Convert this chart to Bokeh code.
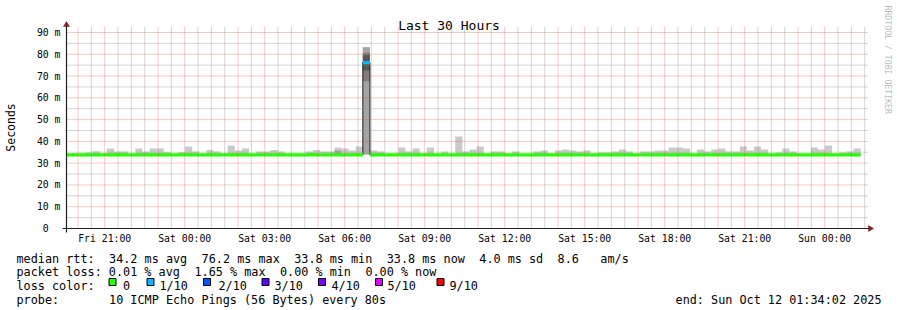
import re
import math
from datetime import datetime, timezone

from bokeh.plotting import figure
from bokeh.models import Range1d, FixedTicker, DatetimeTickFormatter
from bokeh.embed import file_html
from bokeh.resources import INLINE
from bokeh.core.properties import value

UTC = timezone.utc

# ---------------------------------------------------------------- data
title_text = "Last 30 Hours"
graph_start = datetime(2025, 10, 10, 19, 34, 2, tzinfo=UTC)
graph_end = datetime(2025, 10, 12, 1, 34, 2, tzinfo=UTC)
first_bin_start = datetime(2025, 10, 10, 19, 28, 48, tzinfo=UTC)
bin_minutes = 16

# median RTT per 16-min bin (ms)
median_ms = [
    33.8, 33.8, 33.8, 33.8, 33.8, 33.8, 33.8, 33.8, 33.8, 33.8, 33.8, 33.8, 33.8, 33.8, 33.8, 33.8,
    33.8, 33.8, 33.8, 33.8, 33.8, 33.8, 33.8, 33.8, 33.8, 33.8, 33.8, 33.8, 33.8, 33.8, 33.8, 33.8,
    33.8, 33.8, 33.8, 33.8, 33.8, 33.8, 33.8, 33.8, 33.8, 33.8, 76.2, 33.8, 33.8, 33.8, 33.8, 33.8,
    33.8, 33.8, 33.8, 33.8, 33.8, 33.8, 33.8, 33.8, 33.8, 33.8, 33.8, 33.8, 33.8, 33.8, 33.8, 33.8,
    33.8, 33.8, 33.8, 33.8, 33.8, 33.8, 33.8, 33.8, 33.8, 33.8, 33.8, 33.8, 33.8, 33.8, 33.8, 33.8,
    33.8, 33.8, 33.8, 33.8, 33.8, 33.8, 33.8, 33.8, 33.8, 33.8, 33.8, 33.8, 33.8, 33.8, 33.8, 33.8,
    33.8, 33.8, 33.8, 33.8, 33.8, 33.8, 33.8, 33.8, 33.8, 33.8, 33.8, 33.8, 33.8, 33.8, 33.8, 33.8,
]
# slowest ping per bin (ms) = top of the smoke
max_ms = [
    33.8, 33.8, 33.8, 34.9, 35.5, 33.8, 36.7, 35.4, 35.4, 33.8, 36.7, 35.4, 36.7, 36.7, 35.0, 33.8,
    35.0, 37.6, 35.4, 33.8, 36.0, 35.4, 33.8, 38.1, 35.8, 36.7, 33.8, 35.4, 35.4, 36.0, 35.4, 33.8,
    33.8, 33.8, 35.4, 36.0, 35.4, 35.4, 37.2, 36.7, 35.8, 37.6, 83.2, 35.8, 35.4, 33.8, 33.8, 37.2,
    35.4, 36.7, 33.8, 37.2, 33.8, 35.4, 33.8, 42.2, 35.4, 36.3, 37.6, 33.8, 35.4, 35.4, 33.8, 35.4,
    33.8, 33.8, 35.4, 35.8, 33.8, 35.8, 36.3, 35.8, 35.4, 35.8, 33.8, 34.9, 34.9, 35.4, 36.3, 35.4,
    33.8, 35.4, 35.4, 35.8, 35.8, 37.2, 37.2, 36.7, 33.8, 36.3, 35.4, 36.3, 36.7, 35.4, 35.4, 37.6,
    35.8, 37.6, 36.3, 33.8, 34.9, 36.7, 35.4, 33.8, 33.8, 37.2, 36.3, 38.1, 33.8, 34.9, 35.4, 36.7,
]
# lost pings (of 10) per bin
loss_count = [
    0, 0, 0, 0, 0, 0, 0, 0, 0, 0, 0, 0, 0, 0, 0, 0,
    0, 0, 0, 0, 0, 0, 0, 0, 0, 0, 0, 0, 0, 0, 0, 0,
    0, 0, 0, 0, 0, 0, 0, 0, 0, 0, 1, 0, 0, 0, 0, 0,
    0, 0, 0, 0, 0, 0, 0, 0, 0, 0, 0, 0, 0, 0, 0, 0,
    0, 0, 0, 0, 0, 0, 0, 0, 0, 0, 0, 0, 0, 0, 0, 0,
    0, 0, 0, 0, 0, 0, 0, 0, 0, 0, 0, 0, 0, 0, 0, 0,
    0, 0, 0, 0, 0, 0, 0, 0, 0, 0, 0, 0, 0, 0, 0, 0,
]
# bins whose sorted pings are spread out (ms)
detail_bins = [38, 42]
detail_pings = [
    [33.8, 33.8, 33.8, 33.8, 33.8, 33.8, 33.8, 33.8, 35.8, 37.2],
    [34.0, 34.0, 67.6, 72.5, 76.0, 76.4, 79.7, 80.7, 83.2, 83.2],
]

y_ticks = [0, 10, 20, 30, 40, 50, 60, 70, 80, 90]
y_tick_labels = ["0\u00a0\u00a0", "10 m", "20 m", "30 m", "40 m", "50 m", "60 m", "70 m", "80 m", "90 m"]
x_label_times = [
    datetime(2025, 10, 10, 21, 0, tzinfo=UTC), datetime(2025, 10, 11, 0, 0, tzinfo=UTC),
    datetime(2025, 10, 11, 3, 0, tzinfo=UTC), datetime(2025, 10, 11, 6, 0, tzinfo=UTC),
    datetime(2025, 10, 11, 9, 0, tzinfo=UTC), datetime(2025, 10, 11, 12, 0, tzinfo=UTC),
    datetime(2025, 10, 11, 15, 0, tzinfo=UTC), datetime(2025, 10, 11, 18, 0, tzinfo=UTC),
    datetime(2025, 10, 11, 21, 0, tzinfo=UTC), datetime(2025, 10, 12, 0, 0, tzinfo=UTC),
]

loss_thresholds = [0, 1, 2, 3, 4, 5, 9]
loss_labels = ["0", "1/10", "2/10", "3/10", "4/10", "5/10", "9/10"]
loss_colors = ["#26ff00", "#00b8ff", "#0059ff", "#5e00ff", "#7e00ff", "#dd00ff", "#ff0000"]

rtt_avg, rtt_max, rtt_min, rtt_now, rtt_sd, am_s = 34.2, 76.2, 33.8, 33.8, 4.0, 8.6
loss_avg, loss_max, loss_min, loss_now = 0.01, 1.65, 0.00, 0.00
probe_pings, probe_bytes, probe_step = 10, 56, 80

# ---------------------------------------------------------------- layout constants
W, H = 897, 310
PPM = 196 / 90.0          # pixels per ms
MS_PER_PX = 135000.0      # 30 h over 800 px
X_ORIGIN, Y_ORIGIN = 66, 228
GRAPH_TOP_PX = 28
MONO = "DejaVu Sans Mono"

T0 = graph_start.timestamp() * 1000
T1 = graph_end.timestamp() * 1000


def X(px):
    return T0 + (px - X_ORIGIN) * MS_PER_PX


def Y(py):
    return (Y_ORIGIN - py) / PPM


Y_TOP = Y(GRAPH_TOP_PX)

p = figure(width=W, height=H, x_axis_type="datetime",
           x_range=Range1d(X(0), X(W)), y_range=Range1d(Y(H), Y(0)),
           output_backend="svg", toolbar_location=None, min_border=0)
p.title.visible = False
p.outline_line_color = None
p.xgrid.visible = False
p.ygrid.visible = False
p.background_fill_color = "white"
p.border_fill_color = "white"

# ---- bins
n = len(median_ms)
step_ms = bin_minutes * 60 * 1000
b0 = first_bin_start.timestamp() * 1000
lefts = [max(T0, b0 + k * step_ms) for k in range(n)]
rights = [min(T1, b0 + (k + 1) * step_ms) for k in range(n)]

# ---- smoke (smokeping style layers)
ql, qr, qb, qt, qc = [], [], [], [], []
for k in range(n):
    if k in detail_bins:
        pings = detail_pings[detail_bins.index(k)]
    else:
        pings = [median_ms[k]] * 9 + [max_ms[k]]
    for ib in range(1, 6):
        lo, hi = pings[ib - 1], pings[10 - ib]
        if hi - lo <= 0:
            continue
        g = int(190 / 5 * (5 - ib)) + 50
        ql.append(lefts[k]); qr.append(rights[k]); qb.append(lo); qt.append(hi)
        qc.append("#%02x%02x%02x" % (g, g, g))
p.quad(left=ql, right=qr, bottom=qb, top=qt, fill_color=qc, line_color=None)

# ---- median line: dark step + loss-coloured thick segments
p.step(x=lefts + [rights[-1]], y=median_ms + [median_ms[-1]], mode="after",
       line_color="#202020", line_width=1.0)


def loss_color(c):
    col = loss_colors[0]
    for t, cc in zip(loss_thresholds, loss_colors):
        if c >= t:
            col = cc
    return col


p.segment(x0=lefts, x1=rights, y0=median_ms, y1=median_ms,
          line_color=[loss_color(c) for c in loss_count], line_width=3.3)

# ---- grid (drawn on top like rrdtool)
hour = 3600 * 1000
half = hour // 2
t = math.ceil(T0 / half) * half
minor_v, major_v = [], []
while t <= T1:
    (major_v if t % hour == 0 else minor_v).append(t)
    t += half
minor_h = [v + 5 for v in y_ticks if v + 5 < Y_TOP]
major_h = [v for v in y_ticks if v > 0]
GX1 = X(868)
GY1 = Y(26)
p.segment(x0=minor_v, x1=minor_v, y0=[0] * len(minor_v), y1=[GY1] * len(minor_v),
          line_color="#8f8f8f", line_alpha=0.75, line_dash="1 1", line_width=1)
p.segment(x0=[T0] * len(minor_h), x1=[GX1] * len(minor_h), y0=minor_h, y1=minor_h,
          line_color="#8f8f8f", line_alpha=0.75, line_dash="1 1", line_width=1)
p.segment(x0=major_v, x1=major_v, y0=[0] * len(major_v), y1=[GY1] * len(major_v),
          line_color="#de4f4f", line_alpha=0.6, line_dash="1 1", line_width=1)
p.segment(x0=[T0] * len(major_h), x1=[GX1] * len(major_h), y0=major_h, y1=major_h,
          line_color="#de4f4f", line_alpha=0.6, line_dash="1 1", line_width=1)

# ---- axes lines + arrows
p.segment(x0=[X(X_ORIGIN - 4)], x1=[X(866 + 4)], y0=[0], y1=[0], line_color="#1f1f1f", line_width=1.2)
p.segment(x0=[T0], x1=[T0], y0=[Y(Y_ORIGIN + 4)], y1=[Y(GRAPH_TOP_PX - 4)], line_color="#1f1f1f", line_width=1.2)
p.patch(x=[X(868), X(868), X(873)], y=[Y(Y_ORIGIN - 3), Y(Y_ORIGIN + 3), 0],
        fill_color="#801f1f", line_color="#801f1f", line_width=0.5)
p.patch(x=[X(X_ORIGIN - 3), X(X_ORIGIN + 3), T0],
        y=[Y(GRAPH_TOP_PX - 2), Y(GRAPH_TOP_PX - 2), Y(GRAPH_TOP_PX - 7)],
        fill_color="#801f1f", line_color="#801f1f", line_width=0.5)

# ---- axes (labels only), pinned inside the full-canvas frame
yax = p.yaxis[0]
yax.fixed_location = T0
yax.bounds = (0, Y(26))
yax.ticker = FixedTicker(ticks=y_ticks)
yax.major_label_overrides = {tk: lb for tk, lb in zip(y_ticks, y_tick_labels)}
yax.axis_line_color = None
yax.major_tick_line_color = None
yax.minor_tick_line_color = None
yax.major_tick_out = 0
yax.major_tick_in = 0
yax.minor_tick_out = 0
yax.major_label_standoff = 6
yax.major_label_text_font = MONO
yax.major_label_text_font_size = "9.8px"
yax.major_label_text_color = "#000000"
yax.axis_label = "Seconds"
yax.axis_label_text_font = MONO
yax.axis_label_text_font_size = "11.5px"
yax.axis_label_text_font_style = "normal"
yax.axis_label_text_color = "#000000"
yax.axis_label_standoff = 16

xax = p.xaxis[0]
xax.fixed_location = 0
xax.bounds = (T0, T1)
xax.ticker = FixedTicker(ticks=[d.timestamp() * 1000 for d in x_label_times])
fmt = "%a %H:%M"
xax.formatter = DatetimeTickFormatter(microseconds=fmt, milliseconds=fmt, seconds=fmt, minsec=fmt,
                                      minutes=fmt, hourmin=fmt, hours=fmt, days=fmt, months=fmt,
                                      years=fmt, strip_leading_zeros=False)
xax.axis_line_color = None
xax.major_tick_line_color = None
xax.minor_tick_line_color = None
xax.major_tick_out = 0
xax.major_tick_in = 0
xax.minor_tick_out = 0
xax.major_label_standoff = 4
xax.major_label_text_font = MONO
xax.major_label_text_font_size = "9.8px"
xax.major_label_text_color = "#000000"

# ---- title & watermark
p.text(x=[X(448.5)], y=[Y(25)], text=[title_text], text_font=value(MONO), text_font_size="13px",
       text_align="center", text_baseline="alphabetic", text_color="#000000")
p.text(x=[X(887.5)], y=[Y(5)], text=["RRDTOOL / TOBI OETIKER"], text_font=value(MONO),
       text_font_size="8.2px", angle=-math.pi / 2, text_align="left", text_baseline="middle",
       text_color="#000000", text_alpha=0.3)

# ---------------------------------------------------------------- legend block
X0, CW = 16.0, 7.12
FS = "11.8px"
line1 = (f"median rtt:  {rtt_avg:.1f} ms avg  {rtt_max:.1f} ms max  {rtt_min:.1f} ms min  "
         f"{rtt_now:.1f} ms now  {rtt_sd:.1f} ms sd  {am_s:.1f}   am/s")
line2 = (f"packet loss: {loss_avg:.2f} % avg  {loss_max:.2f} % max  {loss_min:.2f} % min  "
         f"{loss_now:.2f} % now")
line3 = "loss color:"
line4 = f"probe:       {probe_pings} ICMP Echo Pings ({probe_bytes} Bytes) every {probe_step}s"
baselines = [258, 271, 285, 299]

tx, ty, tt = [], [], []
for line, bl in zip([line1, line2, line3, line4], baselines):
    for m in re.finditer(r"\S+(?: \S+)*", line):
        tx.append(X(X0 + m.start() * CW))
        ty.append(Y(bl))
        tt.append(m.group(0))
p.text(x=tx, y=ty, text=tt, text_font=value(MONO), text_font_size=FS,
       text_align="left", text_baseline="alphabetic", text_color="#000000")

box_x = [108.5, 146.5, 203.0, 261.5, 318.0, 375.0, 436.5]
lab_x = [122.5, 159.0, 218.0, 274.0, 331.0, 387.0, 449.0]
bl3 = baselines[2]
p.quad(left=[X(b) for b in box_x], right=[X(b + 7) for b in box_x],
       top=[Y(bl3 - 7)] * len(box_x), bottom=[Y(bl3)] * len(box_x),
       fill_color=loss_colors, line_color="#000000", line_width=1)
p.text(x=[X(v) for v in lab_x], y=[Y(bl3)] * len(lab_x), text=loss_labels, text_font=value(MONO),
       text_font_size=FS, text_align="left", text_baseline="alphabetic", text_color="#000000")

end_text = "end: " + graph_end.strftime("%a %b %d %H:%M:%S %Y")
p.text(x=[X(881)], y=[Y(baselines[3])], text=[end_text], text_font=value(MONO), text_font_size=FS,
       text_align="right", text_baseline="alphabetic", text_color="#000000")

open("out.html", "w").write(file_html(p, INLINE))
